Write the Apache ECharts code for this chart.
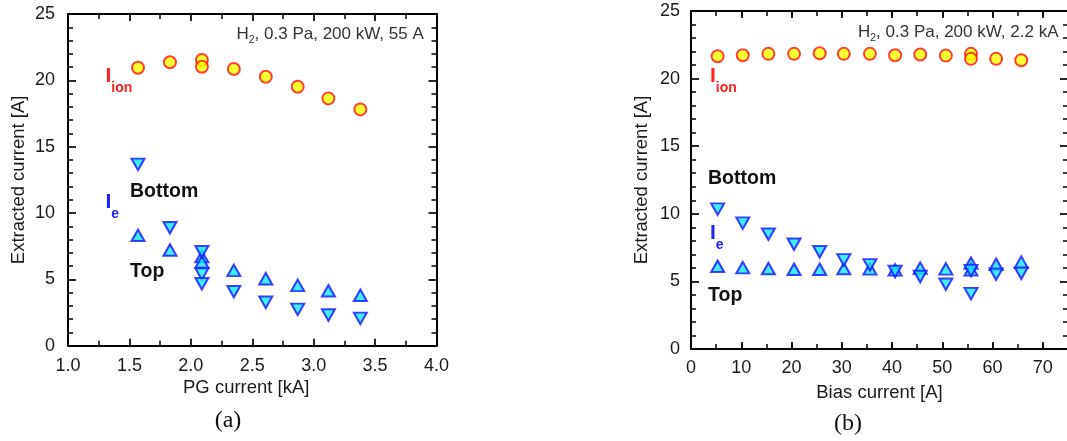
<!DOCTYPE html>
<html><head><meta charset="utf-8">
<script src="https://cdn.jsdelivr.net/npm/echarts/dist/echarts.min.js"></script>
<style>html,body{margin:0;padding:0;background:#fff;overflow:hidden}#c{width:1067px;height:441px}</style>
</head><body><div id="c"></div>
<script>
// ---------- DATA: panel (a) PG current ----------
const pgIonX    = [1.57, 1.83, 2.09, 2.09, 2.35, 2.61, 2.87, 3.12, 3.38];
const pgIonY    = [20.95, 21.36, 21.53, 21.02, 20.85, 20.27, 19.52, 18.64, 17.81];
const pgBottomX = [1.57, 1.83, 2.09, 2.09, 2.09, 2.35, 2.61, 2.87, 3.12, 3.38];
const pgBottomY = [13.67, 8.89, 7.08, 5.4, 4.67, 4.07, 3.27, 2.74, 2.31, 2.06];
const pgTopX    = [1.57, 1.83, 2.09, 2.09, 2.35, 2.61, 2.87, 3.12, 3.38];
const pgTopY    = [8.32, 7.21, 6.71, 6.31, 5.68, 5.05, 4.55, 4.14, 3.8];
// ---------- DATA: panel (b) Bias current ----------
const biasIonX    = [5.3, 10.3, 15.4, 20.5, 25.6, 30.4, 35.6, 40.6, 45.6, 50.7, 55.7, 55.7, 60.7, 65.7];
const biasIonY    = [21.65, 21.73, 21.83, 21.83, 21.87, 21.83, 21.83, 21.73, 21.78, 21.7, 21.83, 21.46, 21.46, 21.36];
const biasBottomX = [5.3, 10.3, 15.4, 20.5, 25.6, 30.4, 35.6, 40.6, 45.6, 50.7, 55.7, 55.7, 60.7, 65.7];
const biasBottomY = [10.35, 9.31, 8.49, 7.75, 7.19, 6.59, 6.22, 5.73, 5.36, 4.79, 5.8, 4.1, 5.53, 5.6];
const biasTopX    = [5.3, 10.3, 15.4, 20.5, 25.6, 30.4, 35.6, 40.6, 45.6, 50.7, 55.7, 55.7, 60.7, 65.7];
const biasTopY    = [6.12, 6.02, 5.95, 5.9, 5.9, 5.95, 5.93, 5.85, 5.98, 5.93, 6.35, 5.85, 6.27, 6.42];
// ---------- TEXT ----------
const yName = 'Extracted current [A]';
const xNameA = 'PG current [kA]';
const xNameB = 'Bias current [A]';
const noteA = ', 0.3 Pa, 200 kW, 55 A';
const noteB = ', 0.3 Pa, 200 kW, 2.2 kA';

const SANS = "'Liberation Sans', Arial, sans-serif";
const SERIF = "'Liberation Serif', 'Times New Roman', serif";
const AX = '#000';
const LBL = '#1a1a1a';
const TICKFS = 18;

function pairs(xs, ys){ return xs.map((x,i)=>[x, ys[i]]); }

function xAx(grid, o){
  return Object.assign({
    type:'value', gridIndex:grid, position:'bottom',
    axisLine:{show:true, onZero:false, lineStyle:{color:AX, width:2}},
    axisTick:{show:true, inside:true, length:7, lineStyle:{color:AX, width:1.7}},
    minorTick:{show:false},
    splitLine:{show:false},
    axisLabel:{show:false, color:LBL, fontFamily:SANS, fontSize:TICKFS},
    nameMoveOverlap:false
  }, o);
}
function yAx(grid, o){
  return Object.assign({
    type:'value', gridIndex:grid, position:'left', min:0, max:25, interval:5,
    axisLine:{show:true, onZero:false, lineStyle:{color:AX, width:2}},
    axisTick:{show:true, inside:true, length:8, lineStyle:{color:AX, width:1.7}},
    minorTick:{show:true, splitNumber:5, length:5, lineStyle:{color:AX, width:1.5}},
    splitLine:{show:false}, minorSplitLine:{show:false},
    axisLabel:{show:false, color:LBL, fontFamily:SANS, fontSize:TICKFS},
    nameMoveOverlap:false
  }, o);
}

const ionStyle = {symbol:'circle', symbolSize:12, itemStyle:{color:'#ffff00', borderColor:'#ff1010', borderWidth:2}};
const upStyle = {symbol:'triangle', symbolSize:[13,11.5], itemStyle:{color:'#14e6ff', borderColor:'#1414ff', borderWidth:2}};
const downStyle = {symbol:'triangle', symbolRotate:180, symbolSize:[13,11.5], itemStyle:{color:'#14e6ff', borderColor:'#1414ff', borderWidth:2}};

function sc(name, xi, yi, data, st){
  return Object.assign({type:'scatter', name, xAxisIndex:xi, yAxisIndex:yi, data, animation:false, z:3}, JSON.parse(JSON.stringify(st)));
}

// text measuring for sequenced labels (sub-scripts)
const mctx = document.createElement('canvas').getContext('2d');
function tw(t, fs, fw, ff){ mctx.font = (fw||'normal')+' '+fs+'px '+ff; return mctx.measureText(t).width; }
function seq(x, y, parts){
  let cx = x; const out = [];
  parts.forEach(p=>{
    out.push({type:'text', x:cx, y:y+(p.dy||0), z:10, silent:true,
      style:{text:p.t, fontFamily:p.ff||SANS, fontSize:p.fs, fontWeight:p.fw||'normal', fill:p.c, align:'left', verticalAlign:'middle'}});
    cx += tw(p.t, p.fs, p.fw, p.ff||SANS) + (p.gap||0);
  });
  return out;
}
function txt(x, y, t, fs, fw, c, align, ff){
  return {type:'text', x, y, z:10, silent:true,
    style:{text:t, fontFamily:ff||SANS, fontSize:fs, fontWeight:fw||'normal', fill:c, align:align||'left', verticalAlign:'middle'}};
}

const RED = '#ff2020', BLUE = '#2020ff', NOTE = '#333';
let graphics = [];
// panel a annotations
graphics = graphics.concat(seq(236.5, 34, [{t:'H', fs:17, c:NOTE}, {t:'2', fs:10.5, c:NOTE, dy:6.5}, {t:noteA, fs:17, c:NOTE}]));
graphics = graphics.concat(seq(105.5, 76, [{t:'I', fs:21, fw:'bold', c:RED}, {t:'ion', fs:14, fw:'bold', c:RED, dy:12}]));
graphics = graphics.concat(seq(105.5, 202, [{t:'I', fs:21, fw:'bold', c:BLUE}, {t:'e', fs:14, fw:'bold', c:BLUE, dy:12}]));
graphics.push(txt(130, 192, 'Bottom', 19.5, 'bold', '#111'));
graphics.push(txt(130, 272, 'Top', 19.5, 'bold', '#111'));
graphics.push(txt(228, 421, '(a)', 24, 'normal', '#111', 'center', SERIF));
// panel b annotations
graphics = graphics.concat(seq(858, 32, [{t:'H', fs:17, c:NOTE}, {t:'2', fs:10.5, c:NOTE, dy:6.5}, {t:noteB, fs:17, c:NOTE}]));
graphics = graphics.concat(seq(710, 76, [{t:'I', fs:21, fw:'bold', c:RED}, {t:'ion', fs:14, fw:'bold', c:RED, dy:12}]));
graphics = graphics.concat(seq(710, 233, [{t:'I', fs:21, fw:'bold', c:BLUE}, {t:'e', fs:14, fw:'bold', c:BLUE, dy:12}]));
graphics.push(txt(708, 179, 'Bottom', 19.5, 'bold', '#111'));
graphics.push(txt(708, 296, 'Top', 19.5, 'bold', '#111'));
graphics.push(txt(848, 424, '(b)', 24, 'normal', '#111', 'center', SERIF));

const option = {
  animation:false,
  backgroundColor:'#fff',
  grid:[
    {left:68, top:14, width:368.5, height:331.7, outerBoundsMode:'none', containLabel:false},
    {left:691, top:11, width:377, height:338, outerBoundsMode:'none', containLabel:false}
  ],
  xAxis:[
    // 0: panel a bottom
    xAx(0, {min:1, max:4, interval:0.5,
      minorTick:{show:true, splitNumber:2, length:5, lineStyle:{color:AX, width:1.5}},
      axisLabel:{show:true, color:LBL, fontFamily:SANS, fontSize:TICKFS, margin:11, formatter:v=>v.toFixed(1)},
      name:xNameA, nameLocation:'middle', nameGap:33,
      nameTextStyle:{color:LBL, fontFamily:SANS, fontSize:18.5, padding:[0,12,0,0]}}),
    // 1: panel a top mirror
    xAx(0, {position:'top', min:1, max:4, interval:0.5,
      minorTick:{show:true, splitNumber:2, length:5, lineStyle:{color:AX, width:1.5}}}),
    // 2: panel b bottom major + labels
    xAx(1, {min:0, max:75, interval:10,
      axisLabel:{show:true, color:LBL, fontFamily:SANS, fontSize:TICKFS, margin:10, showMaxLabel:false,
        formatter:v=>(v%10===0? String(v) : '')},
      name:xNameB, nameLocation:'middle', nameGap:34,
      nameTextStyle:{color:LBL, fontFamily:SANS, fontSize:18.5}}),
    // 3: panel b bottom minor
    xAx(1, {min:0, max:75, interval:5, axisTick:{show:true, inside:true, length:5, lineStyle:{color:AX, width:1.5}}}),
    // 4: panel b top major
    xAx(1, {position:'top', min:0, max:75, interval:10}),
    // 5: panel b top minor
    xAx(1, {position:'top', min:0, max:75, interval:5, axisTick:{show:true, inside:true, length:5, lineStyle:{color:AX, width:1.5}}})
  ],
  yAxis:[
    yAx(0, {axisLabel:{show:true, color:LBL, fontFamily:SANS, fontSize:TICKFS, margin:13},
      name:yName, nameLocation:'middle', nameGap:40, nameRotate:90,
      nameTextStyle:{color:LBL, fontFamily:SANS, fontSize:18.5}}),
    yAx(0, {position:'right'}),
    yAx(1, {axisLabel:{show:true, color:LBL, fontFamily:SANS, fontSize:TICKFS, margin:11},
      name:yName, nameLocation:'middle', nameGap:40, nameRotate:90,
      nameTextStyle:{color:LBL, fontFamily:SANS, fontSize:18.5}}),
    yAx(1, {position:'right'})
  ],
  series:[
    sc('Ion (a)', 0, 0, pairs(pgIonX, pgIonY), ionStyle),
    sc('Top (a)', 0, 0, pairs(pgTopX, pgTopY), upStyle),
    sc('Bottom (a)', 0, 0, pairs(pgBottomX, pgBottomY), downStyle),
    sc('Ion (b)', 2, 2, pairs(biasIonX, biasIonY), ionStyle),
    sc('Top (b)', 2, 2, pairs(biasTopX, biasTopY), upStyle),
    sc('Bottom (b)', 2, 2, pairs(biasBottomX, biasBottomY), downStyle)
  ],
  graphic:graphics
};
const chart = echarts.init(document.getElementById('c'), null, {renderer:'canvas'});
chart.setOption(option);
</script>
</body></html>
